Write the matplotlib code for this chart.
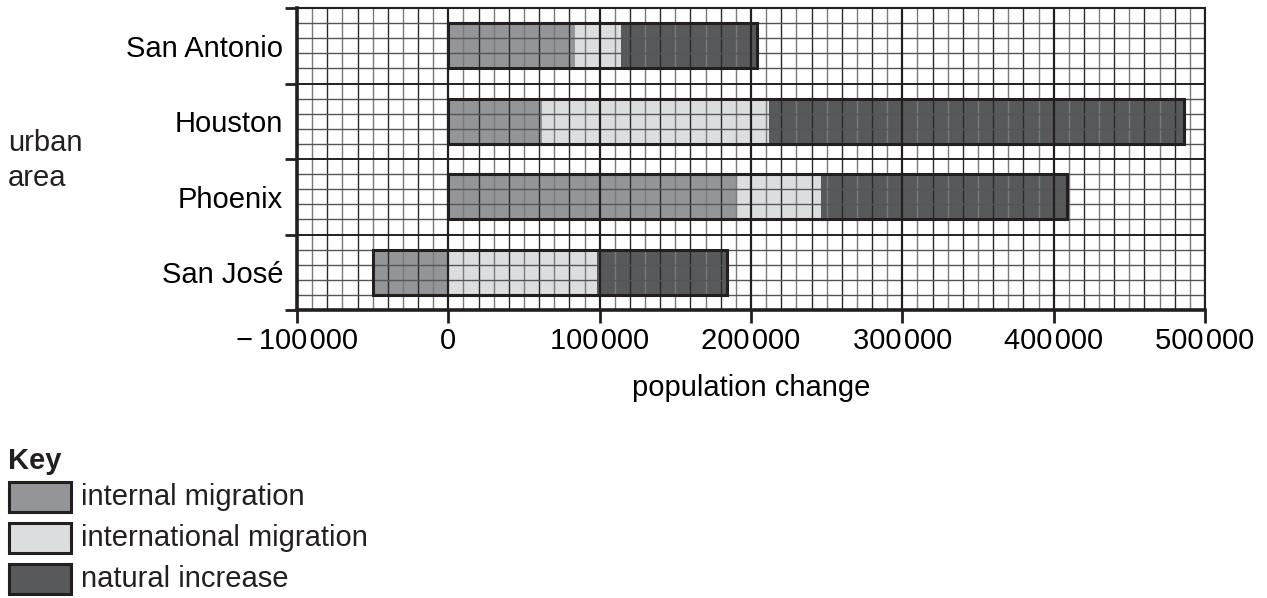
import matplotlib
matplotlib.use("Agg")
import matplotlib.pyplot as plt
from matplotlib.patches import Rectangle
import numpy as np

plt.rcParams['font.family'] = ['Liberation Sans', 'DejaVu Sans']
plt.rcParams['text.color'] = '#231f20'

# data (top to bottom)
areas = ['San Antonio', 'Houston', 'Phoenix', 'San José']
internal = [84000, 62000, 191000, -50000]
international = [30000, 150000, 55000, 98000]
natural = [90000, 274000, 163000, 86000]
series_names = ['internal migration', 'international migration', 'natural increase']
colors = ['#939598', '#dcdddf', '#58595b']
xticks = [-100000, 0, 100000, 200000, 300000, 400000, 500000]
xtick_labels = ['\u2212\u2009100\u200a000', '0', '100\u200a000', '200\u200a000',
                '300\u200a000', '400\u200a000', '500\u200a000']

fs = 21
fig = plt.figure(figsize=(12.67, 5.98), dpi=100)
ax = fig.add_axes([297 / 1267, 1 - 310 / 598, 908 / 1267, 302 / 598])

y = np.arange(len(areas))
internal = np.array(internal)
international = np.array(international)
natural = np.array(natural)

# internal migration may be negative: it is drawn from 0 to its value,
# the other parts stack on the positive side
pos_start = np.where(internal > 0, internal, 0)
ax.barh(y, internal, height=0.6, color=colors[0], zorder=1, linewidth=0)
ax.barh(y, international, left=pos_start, height=0.6, color=colors[1], zorder=1, linewidth=0)
ax.barh(y, natural, left=pos_start + international, height=0.6, color=colors[2], zorder=1, linewidth=0)
lo = np.minimum(internal, 0)
hi = pos_start + international + natural
ax.barh(y, hi - lo, left=lo, height=0.6, fill=False, edgecolor='#231f20', linewidth=2.2, zorder=4)

ax.set_xlim(-100000, 500000)
ax.set_ylim(3.5, -0.5)

# graph paper grid
for gx in np.arange(-100000, 500001, 10000):
    if gx % 100000 == 0:
        ax.axvline(gx, color='#231f20', lw=1.6, zorder=3)
    elif gx % 20000 == 0:
        ax.axvline(gx, color='#2a2a2a', lw=1.0, zorder=2)
    else:
        ax.axvline(gx, color='#7a7a7a', lw=1.0, zorder=2)
for gy in np.arange(-0.5, 3.51, 0.2):
    if abs((gy + 0.5) - round(gy + 0.5)) < 1e-6:
        ax.axhline(gy, color='#231f20', lw=1.4, zorder=3)
    else:
        ax.axhline(gy, color='#555555', lw=1.0, zorder=2)

ax.set_xticks(xticks)
ax.set_xticklabels(xtick_labels, fontsize=fs)
ax.set_yticks(np.arange(-0.5, 3.6, 1.0))
ax.set_yticklabels([])
ax.set_yticks(y, minor=True)
ax.set_yticklabels(areas, minor=True, fontsize=fs)
ax.tick_params(axis='x', direction='out', length=9, width=2, pad=3, color='#231f20')
ax.tick_params(axis='y', which='major', direction='out', length=9, width=2, color='#231f20')
ax.tick_params(axis='y', which='minor', length=0, pad=10)
for side in ['left', 'bottom']:
    ax.spines[side].set_linewidth(2.6)
    ax.spines[side].set_color('#231f20')
for side in ['top', 'right']:
    ax.spines[side].set_linewidth(1.5)
    ax.spines[side].set_color('#231f20')

ax.set_xlabel('population change', fontsize=fs, labelpad=14)
fig.text(8 / 1267, 1 - 143 / 598, 'urban', fontsize=fs, va='center', ha='left')
fig.text(8 / 1267, 1 - 178 / 598, 'area', fontsize=fs, va='center', ha='left')

# key
fig.text(8 / 1267, 1 - 461 / 598, 'Key', fontsize=fs, fontweight='bold', va='center', ha='left')
key_y = [497, 538, 579]
for name, col, ky in zip(series_names, colors, key_y):
    fig.add_artist(Rectangle((9 / 1267, 1 - (ky + 15) / 598), 62 / 1267, 30 / 598,
                             transform=fig.transFigure, facecolor=col,
                             edgecolor='#231f20', linewidth=2.2))
    fig.text(81 / 1267, 1 - ky / 598, name, fontsize=fs, va='center', ha='left')

plt.savefig('out.png', dpi=100)
